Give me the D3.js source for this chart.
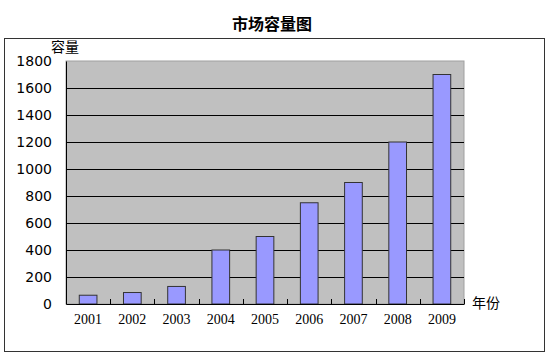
<!DOCTYPE html>
<html><head><meta charset="utf-8">
<script src="https://cdn.jsdelivr.net/npm/d3@7"></script>
<style>body{margin:0;background:#fff}</style>
</head><body>
<svg id="c" width="552" height="357"></svg>
<script>
const years = ["2001","2002","2003","2004","2005","2006","2007","2008","2009"];
const values = [65, 85, 130, 400, 500, 750, 900, 1200, 1700];
const yTicks = [0,200,400,600,800,1000,1200,1400,1600,1800];
const title = "市场容量图";
const yLabel = "容量";
const xLabel = "年份";

const svg = d3.select("#c");
const m = {l:66, r:464, t:61, b:304};
svg.append("rect").attr("x",4.5).attr("y",38.5).attr("width",540).attr("height",313)
  .attr("fill","#fff").attr("stroke","#333").attr("stroke-width",1);
svg.append("text").attr("x",272).attr("y",30).attr("text-anchor","middle")
  .attr("font-family","Noto Sans CJK SC").attr("font-weight","bold").attr("font-size",16).text(title);

const x = d3.scaleBand().domain(years).range([m.l,m.r]);
const y = d3.scaleLinear().domain([0,1800]).range([m.b,m.t]);

svg.append("rect").attr("x",m.l).attr("y",m.t).attr("width",m.r-m.l).attr("height",m.b-m.t)
  .attr("fill","#c0c0c0").attr("stroke","#a0a0a0");

svg.append("g").selectAll("line").data(yTicks.filter(d=>d>0 && d<1800)).join("line")
  .attr("x1",m.l).attr("x2",m.r).attr("y1",d=>Math.round(y(d))+0.5).attr("y2",d=>Math.round(y(d))+0.5)
  .attr("stroke","#000");

const bw = x.bandwidth()*0.4;
svg.append("g").selectAll("rect").data(values).join("rect")
  .attr("x",(d,i)=>x(years[i])+x.bandwidth()/2-bw/2)
  .attr("y",d=>y(d)).attr("width",bw).attr("height",d=>m.b-y(d))
  .attr("fill","#9999ff").attr("stroke","#333").attr("stroke-width",1);

// axes
const xa = svg.append("g").attr("transform",`translate(0,${m.b})`)
  .call(d3.axisBottom(x).tickSize(0).tickPadding(10));
xa.select(".domain").attr("stroke","#000");
xa.selectAll("text").attr("font-family","Liberation Serif").attr("font-size",14).attr("fill","#000");
svg.append("g").selectAll("line").data(years).join("line")
  .attr("x1",d=>Math.round(x(d)+x.bandwidth())+0.5).attr("x2",d=>Math.round(x(d)+x.bandwidth())+0.5)
  .attr("y1",m.b).attr("y2",m.b-5).attr("stroke","#000");

const ya = svg.append("g").attr("transform",`translate(${m.l},0)`)
  .call(d3.axisLeft(y).tickValues(yTicks).tickSize(0).tickPadding(14).tickFormat(d3.format("d")));
ya.select(".domain").attr("stroke","#000");
ya.selectAll("text").attr("font-family","DejaVu Sans").attr("font-size",14).attr("fill","#000");

svg.append("text").attr("x",51).attr("y",52).attr("font-family","Noto Sans CJK SC")
  .attr("font-size",14).text(yLabel);
svg.append("text").attr("x",472).attr("y",308).attr("font-family","Noto Sans CJK SC")
  .attr("font-size",14).text(xLabel);
</script>
</body></html>
